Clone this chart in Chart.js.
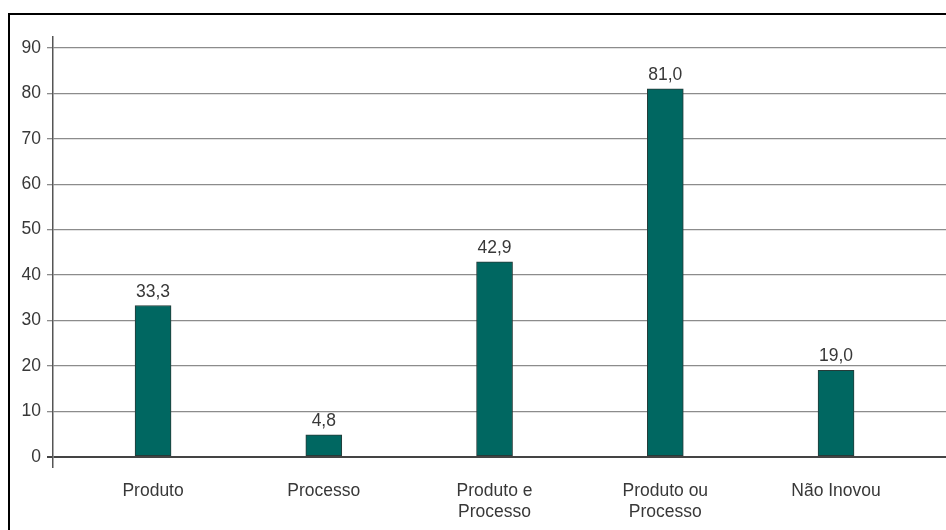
<!DOCTYPE html>
<html>
<head>
<meta charset="utf-8">
<script src="https://cdn.jsdelivr.net/npm/chart.js@4/dist/chart.umd.min.js"></script>
<style>
  body { margin: 0; background: #fff; }
  #wrap { position: relative; width: 946px; height: 530px; overflow: hidden; }
  #frame { position: absolute; left: 8px; top: 13px; right: -4px; bottom: -4px; border: 2px solid #000; }
  canvas { position: absolute; left: 0; top: 0; }
</style>
</head>
<body>
<div id="wrap">
  <div id="frame"></div>
  <canvas id="chart" width="946" height="530"></canvas>
</div>
<script>
const categories = ["Produto", "Processo", ["Produto e", "Processo"], ["Produto ou", "Processo"], "Não Inovou"];
const values = [33.3, 4.8, 42.9, 81.0, 19.0];
const yTicks = [0, 10, 20, 30, 40, 50, 60, 70, 80, 90];

const font = { family: "'Liberation Sans', Arial, sans-serif", size: 17.5 };
const textColor = "#383838";

// value printed above each bar, decimal comma
const barLabels = {
  id: "barLabels",
  afterDatasetsDraw(chart) {
    const ctx = chart.ctx;
    const meta = chart.getDatasetMeta(0);
    ctx.save();
    ctx.font = font.size + "px " + font.family;
    ctx.fillStyle = textColor;
    ctx.textAlign = "center";
    ctx.textBaseline = "bottom";
    meta.data.forEach((bar, i) => {
      ctx.fillText(values[i].toFixed(1).replace(".", ","), bar.x, bar.y - 5);
    });
    ctx.restore();
  }
};

new Chart(document.getElementById("chart"), {
  type: "bar",
  data: {
    datasets: [{
      data: values.map((v, i) => ({ x: i, y: v })),
      backgroundColor: "#006761",
      borderColor: "#263b39",
      borderWidth: 1,
      borderSkipped: false,
      barThickness: 36
    }]
  },
  options: {
    responsive: false,
    animation: false,
    layout: { padding: { top: 37, left: 0, right: 0, bottom: 0 } },
    plugins: { legend: { display: false }, tooltip: { enabled: false } },
    scales: {
      x: {
        type: "linear",
        offset: false,
        min: -0.586,
        max: 4.644,
        grid: { display: false },
        border: { display: false },
        afterBuildTicks: s => { s.ticks = categories.map((c, i) => ({ value: i })); },
        afterFit: s => { s.height = 63; },
        ticks: {
          autoSkip: false,
          maxRotation: 0,
          padding: 6,
          font: font,
          color: textColor,
          callback: v => categories[v]
        }
      },
      y: {
        min: -2.27,
        max: 92.42,
        afterBuildTicks: s => { s.ticks = yTicks.map(v => ({ value: v })); },
        afterFit: s => { s.width = 53; },
        border: { color: "#555", width: 1.5 },
        grid: {
          color: c => c.tick && c.tick.value === 0 ? "#444" : "#8c8c8c",
          lineWidth: c => c.tick && c.tick.value === 0 ? 2 : 1.3,
          tickLength: 6
        },
        ticks: {
          padding: 6,
          font: font,
          color: textColor
        }
      }
    }
  },
  plugins: [barLabels]
});
</script>
</body>
</html>
